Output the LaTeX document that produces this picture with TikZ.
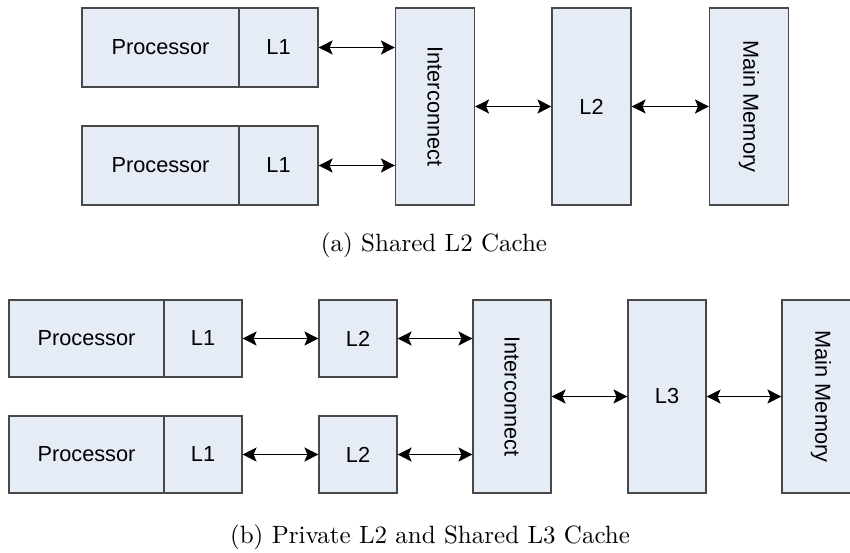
\documentclass[tikz,border=0pt]{standalone}
\usepackage{fontspec}
\newfontfamily\boxfont{Liberation Sans}
\usetikzlibrary{arrows.meta}
\definecolor{boxfill}{RGB}{230,236,246}
\definecolor{boxline}{RGB}{72,72,72}
\begin{document}
\begin{tikzpicture}[x=0.4pt,y=-0.4pt,
  unit/.style={draw=boxline, fill=boxfill, line width=0.45pt, inner sep=0pt,
    font=\boxfont\fontsize{8.7}{10}\selectfont},
  wide/.style={minimum width=62.8pt},
  narrow/.style={minimum width=31.6pt},
  short/.style={minimum height=31.6pt},
  tall/.style={minimum height=78.8pt},
  link/.style={{Stealth[length=5.6pt,width=5.6pt,inset=1.2pt]}-{Stealth[length=5.6pt,width=5.6pt,inset=1.2pt]},
    line width=0.5pt, black},
  caption/.style={inner sep=0pt, font=\fontsize{10}{12}\selectfont}]
\clip (0,0) rectangle (850,552);

% (a) shared L2 cache
\node[unit, wide, short] (pa) at (160.5,47.5) {Processor};
\node[unit, narrow, short] (la) at (278.5,47.5) {L1};
\node[unit, wide, short] (pb) at (160.5,165.5) {Processor};
\node[unit, narrow, short] (lb) at (278.5,165.5) {L1};
\node[unit, narrow, tall] (ica) at (435,106.5) {\rotatebox{-90}{Interconnect}};
\node[unit, narrow, tall] (l2s) at (591.5,106.5) {L2};
\node[unit, narrow, tall] (mma) at (749,106.5) {\rotatebox{-90}{Main Memory}};

\draw[link] (la.east) -- (la.east -| ica.west);
\draw[link] (lb.east) -- (lb.east -| ica.west);
\draw[link] (ica.east) -- (l2s.west);
\draw[link] (l2s.east) -- (mma.west);

\node[caption] (capa) at (434,245) {(a) Shared L2 Cache};

% (b) private L2 and shared L3 cache
\begin{scope}[wide/.style={minimum width=62pt}, narrow/.style={minimum width=31.2pt},
  short/.style={minimum height=30.8pt}, tall/.style={minimum height=77.2pt}]
\node[unit, wide, short] (pc) at (86.5,338.5) {Processor};
\node[unit, narrow, short] (lc) at (203,338.5) {L1};
\node[unit, wide, short] (pd) at (86.5,454.5) {Processor};
\node[unit, narrow, short] (ld) at (203,454.5) {L1};
\node[unit, narrow, short] (l2c) at (358,338.5) {L2};
\node[unit, narrow, short] (l2d) at (358,454.5) {L2};
\node[unit, narrow, tall] (icb) at (512,396.5) {\rotatebox{-90}{Interconnect}};
\node[unit, narrow, tall] (l3s) at (667,396.5) {L3};
\node[unit, narrow, tall] (mmb) at (821,396.5) {\rotatebox{-90}{Main Memory}};
\end{scope}

\draw[link] (lc.east) -- (l2c.west);
\draw[link] (ld.east) -- (l2d.west);
\draw[link] (l2c.east) -- (l2c.east -| icb.west);
\draw[link] (l2d.east) -- (l2d.east -| icb.west);
\draw[link] (icb.east) -- (l3s.west);
\draw[link] (l3s.east) -- (mmb.west);

\node[caption] (capb) at (430,537) {(b) Private L2 and Shared L3 Cache};
\end{tikzpicture}
\end{document}
